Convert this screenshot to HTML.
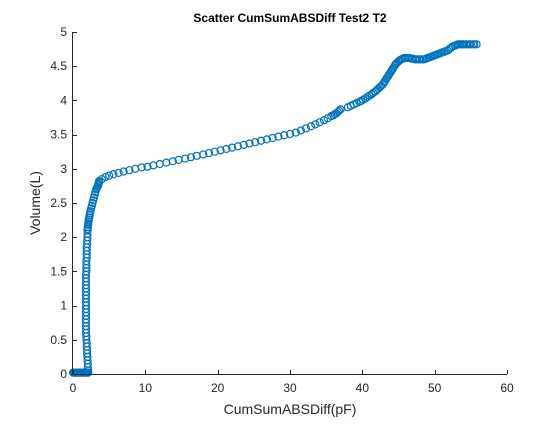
<!DOCTYPE html>
<html><head><meta charset="utf-8"><style>
body{margin:0;background:#fff;}
svg text{font-family:"Liberation Sans",sans-serif;}
</style></head><body>
<svg id="chart" width="560" height="420">
<rect width="560" height="420" fill="#fff"/>
<text x="290" y="22" text-anchor="middle" font-size="12" font-weight="bold" fill="#000">Scatter CumSumABSDiff Test2 T2</text>
<g id="marks"></g>
<g id="axes"></g>
<text x="290" y="414" text-anchor="middle" font-size="14" fill="#262626">CumSumABSDiff(pF)</text>
<text transform="translate(40,203) rotate(-90)" text-anchor="middle" font-size="14" fill="#262626">Volume(L)</text>
</svg>
<script>
const xTicks=[0,10,20,30,40,50,60];
const yTicks=[0,0.5,1,1.5,2,2.5,3,3.5,4,4.5,5];
const yTickLabels=["0","0.5","1","1.5","2","2.5","3","3.5","4","4.5","5"];
const xVals=[0,0.1,0.2,0.3,0.4,0.5,0.6,0.7,0.8,0.9,1.0,1.1,1.2,1.3,1.4,1.5,1.6,1.7,1.8,1.9,2.0,2.1,2.1,2.05,2.05,2.0,2.0,1.95,1.95,1.9,1.9,1.85,1.85,1.8,1.8,1.8,1.8,1.8,1.8,1.8,1.8,1.8,1.8,1.8,1.8,1.8,1.8,1.8,1.8,1.8,1.8,1.85,1.85,1.85,1.85,1.9,1.9,1.9,1.9,1.95,1.95,2.0,2.0,2.0,2.05,2.05,2.1,2.1,2.15,2.2,2.25,2.3,2.35,2.4,2.5,2.6,2.7,2.8,2.9,3.0,3.1,3.2,3.3,3.4,3.5,3.5,3.6,3.6,4.0,4.5,5.0,5.6,6.3,7.0,7.8,8.6,9.5,10.3,11.1,12.0,12.9,13.8,14.6,15.5,16.3,17.1,18.0,18.8,19.6,20.4,21.2,22.0,22.8,23.6,24.4,25.2,26.0,26.8,27.6,28.4,29.2,30.0,30.8,31.5,32.2,32.9,33.5,34.1,34.7,35.2,35.7,36.0,36.2,36.4,36.6,36.8,37.0,38.0,38.4,38.8,39.2,39.6,39.8,40.1,40.4,40.7,41.0,41.3,41.5,41.8,42.0,42.2,42.4,42.6,42.8,43.0,43.1,43.3,43.4,43.6,43.7,43.9,44.0,44.2,44.3,44.5,44.6,44.8,45.0,45.2,45.4,45.6,45.8,46.0,46.3,46.5,46.8,47.0,47.3,47.5,47.8,48.0,48.3,48.5,48.8,49.0,49.3,49.5,49.8,50.0,50.3,50.5,50.8,51.0,51.3,51.5,51.8,52.0,52.3,52.5,52.8,53.0,53.2,53.4,53.6,53.8,54.0,54.3,54.5,54.8,55.0,55.3,55.5,55.8,56.0];
const yVals=[0.02,0.02,0.02,0.02,0.02,0.02,0.02,0.02,0.02,0.02,0.02,0.02,0.02,0.02,0.02,0.02,0.02,0.02,0.02,0.02,0.02,0.02,0.05,0.1,0.15,0.2,0.25,0.3,0.35,0.4,0.45,0.5,0.55,0.6,0.65,0.7,0.75,0.8,0.85,0.9,0.95,1.0,1.05,1.1,1.15,1.2,1.25,1.3,1.35,1.4,1.45,1.5,1.55,1.6,1.65,1.7,1.75,1.8,1.85,1.9,1.95,2.0,2.05,2.1,2.12,2.15,2.18,2.2,2.23,2.26,2.29,2.32,2.35,2.38,2.42,2.46,2.5,2.54,2.58,2.62,2.66,2.7,2.72,2.74,2.76,2.78,2.8,2.82,2.85,2.88,2.9,2.92,2.94,2.96,2.98,3.0,3.02,3.03,3.05,3.07,3.09,3.11,3.13,3.15,3.17,3.19,3.21,3.23,3.25,3.27,3.29,3.31,3.33,3.35,3.37,3.39,3.41,3.43,3.45,3.47,3.49,3.51,3.53,3.56,3.59,3.62,3.65,3.68,3.71,3.74,3.77,3.78,3.8,3.81,3.83,3.85,3.87,3.9,3.92,3.94,3.96,3.98,3.99,4.01,4.03,4.05,4.07,4.09,4.11,4.13,4.15,4.17,4.19,4.21,4.23,4.26,4.28,4.31,4.33,4.36,4.38,4.41,4.43,4.46,4.48,4.51,4.53,4.55,4.57,4.59,4.6,4.61,4.62,4.62,4.62,4.62,4.61,4.61,4.6,4.6,4.6,4.6,4.6,4.6,4.61,4.62,4.63,4.64,4.65,4.66,4.67,4.68,4.69,4.7,4.71,4.72,4.73,4.75,4.77,4.79,4.8,4.81,4.82,4.82,4.82,4.82,4.82,4.82,4.82,4.82,4.82,4.82,4.82,4.82];
const L=73,R=507,T=32,B=374;
const sx=v=>L+(v-0)/(60-0)*(R-L);
const sy=v=>B-(v-0)/(5-0)*(B-T);
const NS="http://www.w3.org/2000/svg";
const marks=document.getElementById('marks');
const n=Math.min(xVals.length,yVals.length);
for(let i=0;i<n;i++){
 const c=document.createElementNS(NS,'circle');
 c.setAttribute('cx',sx(xVals[i]));c.setAttribute('cy',sy(yVals[i]));c.setAttribute('r',3.5);
 c.setAttribute('fill','none');c.setAttribute('stroke','#0072BD');c.setAttribute('stroke-width','1.2');
 
 
 marks.appendChild(c);
}
const ax=document.getElementById('axes');
function line(x1,y1,x2,y2,nm){const l=document.createElementNS(NS,'line');l.setAttribute('x1',x1);l.setAttribute('y1',y1);l.setAttribute('x2',x2);l.setAttribute('y2',y2);l.setAttribute('stroke','#262626');l.setAttribute('stroke-width','1');
 
 
 ax.appendChild(l);}
line(L,B+0.5,R,B+0.5,'x-axis-line');
line(L-0.5,T,L-0.5,B,'y-axis-line');
xTicks.forEach(t=>{const x=Math.round(sx(t))+0.5;line(x,B,x,B-4,'x-tick');
 const tx=document.createElementNS(NS,'text');tx.setAttribute('x',sx(t));tx.setAttribute('y',B+18);tx.setAttribute('text-anchor','middle');tx.setAttribute('font-size','12');tx.setAttribute('fill','#262626');tx.textContent=t;
 
 
 ax.appendChild(tx);});
yTicks.forEach((t,i)=>{const y=Math.round(sy(t))+0.5;line(L,y,L+4,y,'y-tick');
 const tx=document.createElementNS(NS,'text');tx.setAttribute('x',L-6);tx.setAttribute('y',sy(t)+4);tx.setAttribute('text-anchor','end');tx.setAttribute('font-size','12');tx.setAttribute('fill','#262626');tx.textContent=yTickLabels[i];
 
 
 ax.appendChild(tx);});
</script>
</body></html>
